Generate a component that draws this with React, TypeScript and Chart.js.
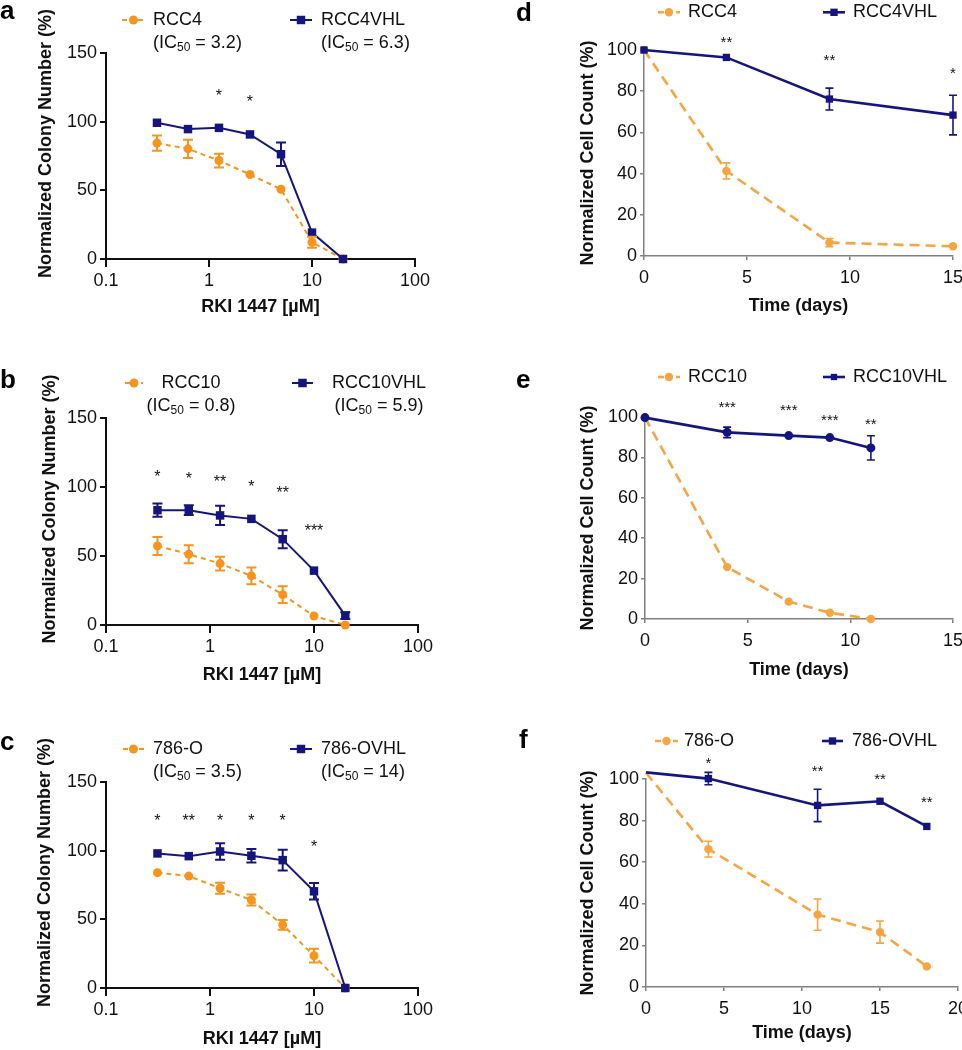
import React, { useEffect, useRef } from "react";
import { Chart, registerables } from "chart.js";

Chart.register(...registerables);

const FONT = "'Liberation Sans', Arial, Helvetica, sans-serif";
Chart.defaults.font.family = FONT;

const ORANGE_A = "#F7941D";
const ORANGE_D = "#F8A441";
const NAVY = "#15157F";

// ---------- Colony formation (panels a-c) ----------
const doses = [0.3125, 0.625, 1.25, 2.5, 5, 10, 20];
const logTickValues = [0.1, 1, 10, 100];
const logTickLabels = ["0.1", "1", "10", "100"];

const rcc4Colony = [84.4, 80.2, 71.7, 61.5, 50.8, 12.2, 0];
const rcc4ColonyErr = [5.5, 6.7, 5, 0, 0, 4, 0];
const rcc4VhlColony = [99.2, 94.6, 95.5, 90.7, 76.3, 19.2, 0];
const rcc4VhlColonyErr = [0, 0, 0, 0, 8.6, 0, 0];
const ic50A = ["3.2", "6.3"];
const starsADose = [1.25, 2.5];
const starsAY = [122, 117.7];
const starsALabel = ["*", "*"];

const rcc10Colony = [57.3, 51.3, 44.5, 35.6, 22, 6.5, 0];
const rcc10ColonyErr = [6.5, 6.5, 5, 6, 6, 0, 0];
const rcc10VhlColony = [83.2, 83.2, 79.4, 76.9, 62.2, 39.4, 6.8];
const rcc10VhlColonyErr = [4.8, 3.5, 7, 0, 6.5, 0, 2.5];
const ic50B = ["0.8", "5.9"];
const starsBDose = [0.3125, 0.625, 1.25, 2.5, 5, 10];
const starsBY = [110, 108.6, 107, 103, 98.5, 71.4];
const starsBLabel = ["*", "*", "**", "*", "**", "***"];

const o786Colony = [84, 81.5, 72.6, 64.1, 46, 23.5, 0];
const o786ColonyErr = [0, 0, 4, 4, 3.5, 5, 0];
const o786VhlColony = [98, 96, 99.4, 96.3, 93.1, 70.4, 0];
const o786VhlColonyErr = [0, 0, 6, 5, 7.5, 6, 0];
const ic50C = ["3.5", "14"];
const starsCDose = [0.3125, 0.625, 1.25, 2.5, 5, 10];
const starsCY = [124.6, 124.6, 124.6, 124.6, 124.6, 106];
const starsCLabel = ["*", "**", "*", "*", "*", "*"];

// ---------- Cell count time courses (panels d-f) ----------
const daysD = [0, 4, 9, 15];
const rcc4Count = [100, 41.3, 6.5, 4.7];
const rcc4CountErr = [0, 3.9, 2, 0];
const rcc4VhlCount = [100, 96.4, 76.2, 68.4];
const rcc4VhlCountErr = [0, 0, 5.3, 9.6];
const starsDDay = [4, 9, 15];
const starsDY = [105.7, 96.8, 90.6];
const starsDLabel = ["**", "**", "*"];

const daysE = [0, 4, 7, 9, 11];
const rcc10Count = [99.7, 25.7, 8.6, 3.1, 0];
const rcc10CountErr = [0, 0, 0, 0, 0];
const rcc10VhlCount = [99.7, 92.4, 90.8, 89.8, 84.7];
const rcc10VhlCountErr = [0, 2.6, 0, 0, 6];
const starsEDay = [4, 7, 9, 11];
const starsEY = [107, 105.4, 100.5, 98.4];
const starsELabel = ["***", "***", "***", "**"];

const daysF = [0, 4, 11, 15, 18];
const o786Count = [103, 66.3, 34.8, 26.4, 9.9];
const o786CountErr = [0, 3.8, 7.5, 5.3, 0];
const o786VhlCount = [103.2, 100.2, 87.3, 89.3, 77.2];
const o786VhlCountErr = [0, 3, 7.8, 0, 0];
const starsFDay = [4, 11, 15, 18];
const starsFY = [109.6, 105.8, 101.8, 90.9];
const starsFLabel = ["*", "**", "**", "**"];

type Series = {
  label: string;
  xs: number[];
  ys: number[];
  err: number[];
  color: string;
  dashed: boolean;
  marker: string;
  legendMarker: string;
  radius: number;
  ic50?: string;
};

type LegendPos = { x1: number; x2: number; y: number; tx: number; align: "left" | "center"; y2?: number };

type Panel = {
  key: string;
  letter: string;
  letterX: number;
  letterY: number;
  box: [number, number, number, number];
  area: [number, number, number, number];
  yTitle: string;
  yTitleX: number;
  xTitle: string;
  xTitleY: number;
  log: boolean;
  xMin: number;
  xMax: number;
  xStep: number;
  yMax: number;
  yStep: number;
  series: Series[];
  legends: LegendPos[];
  stars: { xs: number[]; ys: number[]; labels: string[] };
  axisColor: string;
  axisWidth: number;
  xTickLen: number;
  yTickLen: number;
  xPad: number;
  yPad: number;
  lineWidth: number;
  dash: number[];
  legendDash: number[];
  capHalf: number;
  errWidth: number;
  starFont: number;
};

const prism = {
  log: true,
  xMin: 0.1,
  xMax: 100,
  xStep: 1,
  yMax: 150,
  yStep: 50,
  // leading spaces lift the centred, rotated title as in the original figure
  yTitle: "     Normalized Colony Number (%)",
  xTitle: "RKI 1447 [µM]",
  axisColor: "#111",
  axisWidth: 2,
  xTickLen: 8,
  yTickLen: 6,
  xPad: 3,
  yPad: 3,
  lineWidth: 2,
  dash: [5, 4],
  legendDash: [5, 3],
  capHalf: 5,
  errWidth: 2,
  starFont: 16,
};

const excel = {
  log: false,
  xMin: 0,
  xStep: 5,
  yMax: 100,
  yStep: 20,
  yTitle: "Normalized Cell Count (%)",
  xTitle: "Time (days)",
  axisColor: "#808080",
  axisWidth: 1.5,
  xTickLen: 4,
  yTickLen: 4,
  xPad: 7,
  yPad: 3,
  lineWidth: 2.6,
  dash: [10, 6],
  legendDash: [6, 3],
  capHalf: 4,
  errWidth: 1.6,
  starFont: 15,
};

const panels: Panel[] = [
  {
    ...prism,
    key: "a",
    letter: "a",
    letterX: 0,
    letterY: 19,
    box: [0, 0, 480, 330],
    area: [106, 53, 415, 259],
    yTitleX: 45.8,
    xTitleY: 307,
    series: [
      { label: "RCC4", xs: doses, ys: rcc4Colony, err: rcc4ColonyErr, color: ORANGE_A, dashed: true, marker: "circle", legendMarker: "circle", radius: 4.5, ic50: ic50A[0] },
      { label: "RCC4VHL", xs: doses, ys: rcc4VhlColony, err: rcc4VhlColonyErr, color: NAVY, dashed: false, marker: "rect", legendMarker: "rect", radius: 6, ic50: ic50A[1] },
    ],
    legends: [
      { x1: 122, x2: 145, y: 20, tx: 153, align: "left", y2: 43 },
      { x1: 290, x2: 312, y: 20, tx: 321, align: "left", y2: 43 },
    ],
    stars: { xs: starsADose, ys: starsAY, labels: starsALabel },
  },
  {
    ...prism,
    key: "b",
    letter: "b",
    letterX: 0,
    letterY: 388,
    box: [0, 320, 480, 370],
    area: [106, 418, 418, 625],
    yTitleX: 50,
    xTitleY: 675,
    series: [
      { label: "RCC10", xs: doses, ys: rcc10Colony, err: rcc10ColonyErr, color: ORANGE_A, dashed: true, marker: "circle", legendMarker: "circle", radius: 4.5, ic50: ic50B[0] },
      { label: "RCC10VHL", xs: doses, ys: rcc10VhlColony, err: rcc10VhlColonyErr, color: NAVY, dashed: false, marker: "rect", legendMarker: "rect", radius: 6, ic50: ic50B[1] },
    ],
    legends: [
      { x1: 125, x2: 143, y: 383, tx: 191, align: "center", y2: 406 },
      { x1: 292, x2: 313, y: 383, tx: 379, align: "center", y2: 406 },
    ],
    stars: { xs: starsBDose, ys: starsBY, labels: starsBLabel },
  },
  {
    ...prism,
    key: "c",
    letter: "c",
    letterX: 0,
    letterY: 750,
    box: [0, 680, 480, 370],
    area: [106, 782, 418, 988],
    yTitleX: 45,
    xTitleY: 1039,
    series: [
      { label: "786-O", xs: doses, ys: o786Colony, err: o786ColonyErr, color: ORANGE_A, dashed: true, marker: "circle", legendMarker: "circle", radius: 4.5, ic50: ic50C[0] },
      { label: "786-OVHL", xs: doses, ys: o786VhlColony, err: o786VhlColonyErr, color: NAVY, dashed: false, marker: "rect", legendMarker: "rect", radius: 6, ic50: ic50C[1] },
    ],
    legends: [
      { x1: 123, x2: 144, y: 749, tx: 153, align: "left", y2: 772 },
      { x1: 290, x2: 312, y: 749, tx: 321, align: "left", y2: 772 },
    ],
    stars: { xs: starsCDose, ys: starsCY, labels: starsCLabel },
  },
  {
    ...excel,
    key: "d",
    letter: "d",
    letterX: 516,
    letterY: 20.7,
    box: [480, 0, 520, 330],
    area: [644, 50, 953, 256],
    yTitleX: 588,
    xTitleY: 305.7,
    xMax: 15,
    series: [
      { label: "RCC4", xs: daysD, ys: rcc4Count, err: rcc4CountErr, color: ORANGE_D, dashed: true, marker: "circle", legendMarker: "circle", radius: 4.2 },
      { label: "RCC4VHL", xs: daysD, ys: rcc4VhlCount, err: rcc4VhlCountErr, color: NAVY, dashed: false, marker: "rect", legendMarker: "rect", radius: 5.2 },
    ],
    legends: [
      { x1: 658, x2: 680, y: 12.3, tx: 688, align: "left" },
      { x1: 823, x2: 845, y: 12.3, tx: 853, align: "left" },
    ],
    stars: { xs: starsDDay, ys: starsDY, labels: starsDLabel },
  },
  {
    ...excel,
    key: "e",
    letter: "e",
    letterX: 516,
    letterY: 388,
    box: [480, 320, 520, 370],
    area: [645, 417, 953, 619],
    yTitleX: 588,
    xTitleY: 670,
    xMax: 15,
    series: [
      { label: "RCC10", xs: daysE, ys: rcc10Count, err: rcc10CountErr, color: ORANGE_D, dashed: true, marker: "circle", legendMarker: "circle", radius: 4.2 },
      { label: "RCC10VHL", xs: daysE, ys: rcc10VhlCount, err: rcc10VhlCountErr, color: NAVY, dashed: false, marker: "circle", legendMarker: "rect", radius: 4.5 },
    ],
    legends: [
      { x1: 658, x2: 680, y: 377, tx: 688, align: "left" },
      { x1: 823, x2: 845, y: 377, tx: 853, align: "left" },
    ],
    stars: { xs: starsEDay, ys: starsEY, labels: starsELabel },
  },
  {
    ...excel,
    key: "f",
    letter: "f",
    letterX: 519,
    letterY: 748,
    box: [480, 680, 520, 370],
    area: [646, 779, 958, 987],
    yTitleX: 588,
    xTitleY: 1033,
    xMax: 20,
    series: [
      { label: "786-O", xs: daysF, ys: o786Count, err: o786CountErr, color: ORANGE_D, dashed: true, marker: "circle", legendMarker: "circle", radius: 4.2 },
      { label: "786-OVHL", xs: daysF, ys: o786VhlCount, err: o786VhlCountErr, color: NAVY, dashed: false, marker: "rect", legendMarker: "rect", radius: 5.2 },
    ],
    legends: [
      { x1: 655, x2: 678, y: 741, tx: 684, align: "left" },
      { x1: 822, x2: 843, y: 741, tx: 852, align: "left" },
    ],
    stars: { xs: starsFDay, ys: starsFY, labels: starsFLabel },
  },
];

function drawMarker(ctx: CanvasRenderingContext2D, style: string, x: number, y: number, r: number, color: string) {
  ctx.save();
  ctx.setLineDash([]);
  ctx.fillStyle = color;
  ctx.beginPath();
  if (style === "rect") {
    const s = r * Math.SQRT1_2;
    ctx.rect(x - s, y - s, 2 * s, 2 * s);
  } else {
    ctx.arc(x, y, r, 0, Math.PI * 2);
  }
  ctx.fill();
  ctx.restore();
}

function overlayPlugin(p: Panel) {
  const ox = p.box[0];
  const oy = p.box[1];
  return {
    id: "overlay_" + p.key,
    afterDatasetsDraw(chart: any) {
      const ctx: CanvasRenderingContext2D = chart.ctx;
      const xs = chart.scales.x;
      const ys = chart.scales.y;
      // error bars
      p.series.forEach((s) => {
        ctx.save();
        ctx.strokeStyle = s.color;
        ctx.lineWidth = p.errWidth;
        ctx.setLineDash([]);
        s.xs.forEach((xv, j) => {
          const e = s.err[j];
          if (!e) return;
          const px = xs.getPixelForValue(xv);
          const y1 = ys.getPixelForValue(s.ys[j] + e);
          const y2 = ys.getPixelForValue(s.ys[j] - e);
          ctx.beginPath();
          ctx.moveTo(px, y1);
          ctx.lineTo(px, y2);
          ctx.moveTo(px - p.capHalf, y1);
          ctx.lineTo(px + p.capHalf, y1);
          ctx.moveTo(px - p.capHalf, y2);
          ctx.lineTo(px + p.capHalf, y2);
          ctx.stroke();
        });
        ctx.restore();
      });
      // significance stars
      ctx.save();
      ctx.fillStyle = "#111";
      ctx.font = `${p.starFont}px ${FONT}`;
      ctx.textAlign = "center";
      ctx.textBaseline = "alphabetic";
      p.stars.xs.forEach((xv, i) => {
        const px = xs.getPixelForValue(xv);
        const py = ys.getPixelForValue(p.stars.ys[i]);
        ctx.fillText(p.stars.labels[i], px, py + p.starFont * 0.58);
      });
      ctx.restore();
    },
    afterDraw(chart: any) {
      const ctx: CanvasRenderingContext2D = chart.ctx;
      ctx.save();
      // panel letter
      ctx.fillStyle = "#000";
      ctx.font = `bold 26px ${FONT}`;
      ctx.textAlign = "left";
      ctx.textBaseline = "alphabetic";
      ctx.fillText(p.letter, p.letterX - ox, p.letterY - oy);
      // legend
      p.series.forEach((s, i) => {
        const lg = p.legends[i];
        const y = lg.y - oy;
        ctx.strokeStyle = s.color;
        ctx.lineWidth = p.lineWidth;
        ctx.setLineDash(s.dashed ? p.legendDash : []);
        ctx.beginPath();
        ctx.moveTo(lg.x1 - ox, y);
        ctx.lineTo(lg.x2 - ox, y);
        ctx.stroke();
        ctx.setLineDash([]);
        drawMarker(ctx, s.legendMarker, (lg.x1 + lg.x2) / 2 - ox, y, s.radius, s.color);
        ctx.fillStyle = "#111";
        ctx.font = `18px ${FONT}`;
        ctx.textBaseline = "middle";
        ctx.textAlign = lg.align;
        ctx.fillText(s.label, lg.tx - ox, y);
        if (s.ic50 && lg.y2 !== undefined) {
          const y2 = lg.y2 - oy;
          const pre = "(IC";
          const post = ` = ${s.ic50})`;
          ctx.font = `18px ${FONT}`;
          const w1 = ctx.measureText(pre).width;
          const w3 = ctx.measureText(post).width;
          ctx.font = `12px ${FONT}`;
          const w2 = ctx.measureText("50").width;
          let x0 = lg.tx - ox;
          if (lg.align === "center") x0 -= (w1 + w2 + w3) / 2;
          ctx.textAlign = "left";
          ctx.font = `18px ${FONT}`;
          ctx.fillText(pre, x0, y2);
          ctx.font = `12px ${FONT}`;
          ctx.fillText("50", x0 + w1, y2 + 5);
          ctx.font = `18px ${FONT}`;
          ctx.fillText(post, x0 + w1 + w2, y2);
        }
      });
      ctx.restore();
    },
  };
}

function buildConfig(p: Panel): any {
  const [cx, cy, cw, ch] = p.box;
  const [L, T, R, B] = p.area;
  const titleHalf = 18 * 1.2 * 0.5;
  const padLeft = p.yTitleX - cx - titleHalf;
  const yWidth = L - cx - padLeft;
  const scaleBottom = p.xTitleY + titleHalf;
  const padBottom = cy + ch - scaleBottom;
  const xHeight = scaleBottom - B;

  const datasets = p.series.map((s) => ({
    label: s.label,
    data: s.xs.map((x, j) => ({ x, y: s.ys[j] })),
    borderColor: s.color,
    backgroundColor: s.color,
    borderWidth: p.lineWidth,
    borderDash: s.dashed ? p.dash : [],
    pointStyle: s.marker,
    pointRadius: s.radius,
    pointBackgroundColor: s.color,
    pointBorderColor: s.color,
    pointBorderWidth: 0,
    tension: 0,
    fill: false,
    clip: false,
    order: s.dashed ? 1 : 0,
  }));

  const xScale: any = {
    type: p.log ? "logarithmic" : "linear",
    min: p.xMin,
    max: p.xMax,
    position: "bottom",
    afterFit: (scale: any) => {
      scale.height = xHeight;
    },
    grid: {
      drawOnChartArea: false,
      drawTicks: true,
      tickLength: p.xTickLen,
      color: p.axisColor,
      lineWidth: p.axisWidth,
    },
    border: { display: true, color: p.axisColor, width: p.axisWidth },
    ticks: {
      color: "#111",
      font: { size: 18 },
      padding: p.xPad,
      maxRotation: 0,
      autoSkip: false,
    },
    title: {
      display: true,
      text: p.xTitle,
      color: "#111",
      font: { size: 18, weight: "bold" },
      padding: { top: 0, bottom: 0 },
    },
  };
  if (p.log) {
    xScale.afterBuildTicks = (scale: any) => {
      scale.ticks = logTickValues.map((v) => ({ value: v }));
    };
    xScale.ticks.callback = (v: any) => {
      const i = logTickValues.findIndex((t) => Math.abs(t - Number(v)) < 1e-9);
      return i >= 0 ? logTickLabels[i] : "";
    };
  } else {
    xScale.ticks.stepSize = p.xStep;
  }

  return {
    type: "line",
    data: { datasets },
    options: {
      responsive: false,
      animation: false,
      events: [],
      layout: {
        padding: { left: padLeft, top: T - cy, right: cx + cw - R, bottom: padBottom },
      },
      plugins: { legend: { display: false }, tooltip: { enabled: false } },
      scales: {
        x: xScale,
        y: {
          type: "linear",
          min: 0,
          max: p.yMax,
          position: "left",
          afterFit: (scale: any) => {
            scale.width = yWidth;
          },
          grid: {
            drawOnChartArea: false,
            drawTicks: true,
            tickLength: p.yTickLen,
            color: p.axisColor,
            lineWidth: p.axisWidth,
          },
          border: { display: true, color: p.axisColor, width: p.axisWidth },
          ticks: {
            color: "#111",
            font: { size: 18 },
            padding: p.yPad,
            stepSize: p.yStep,
          },
          title: {
            display: true,
            text: p.yTitle,
            color: "#111",
            font: { size: 18, weight: "bold" },
            padding: { top: 0, bottom: 0 },
          },
        },
      },
    },
    plugins: [overlayPlugin(p)],
  };
}

function PanelChart({ p }: { p: Panel }) {
  const ref = useRef<HTMLCanvasElement>(null);
  useEffect(() => {
    if (!ref.current) return;
    const chart = new Chart(ref.current, buildConfig(p));
    return () => chart.destroy();
  }, [p]);
  const [x, y, w, h] = p.box;
  return (
    <canvas
      ref={ref}
      width={w}
      height={h}
      style={{ position: "absolute", left: x, top: y, width: w, height: h }}
    />
  );
}

export default function App() {
  return (
    <div
      style={{
        position: "absolute",
        left: 0,
        top: 0,
        width: 962,
        height: 1050,
        overflow: "hidden",
        background: "#ffffff",
      }}
    >
      {panels.map((p) => (
        <PanelChart key={p.key} p={p} />
      ))}
    </div>
  );
}
